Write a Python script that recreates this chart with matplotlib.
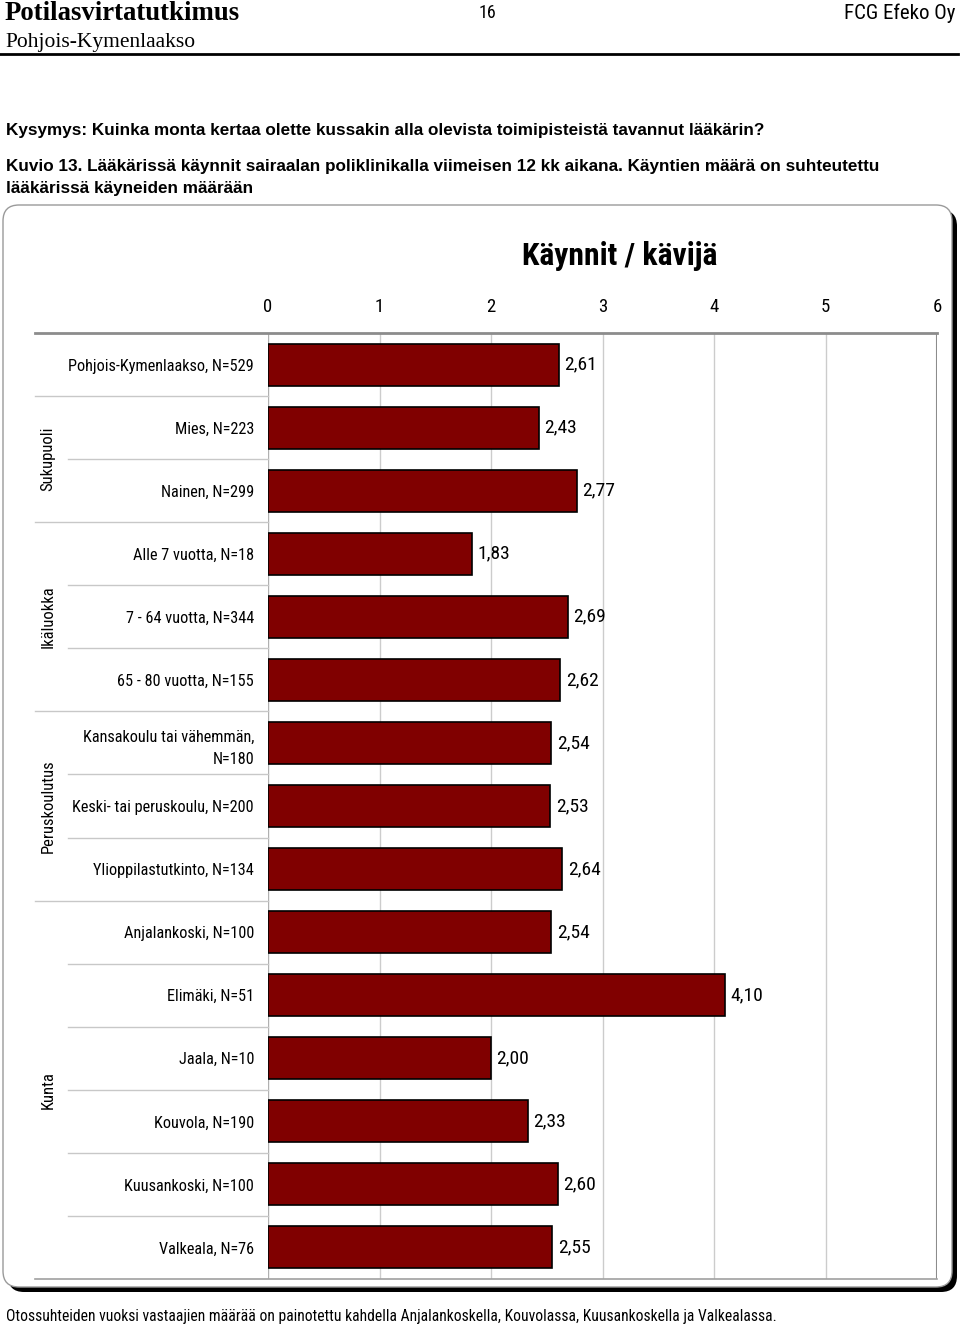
import matplotlib
matplotlib.use("Agg")
import matplotlib.pyplot as plt
from matplotlib.patches import FancyBboxPatch
from matplotlib.transforms import blended_transform_factory
import numpy as np

NARROW = ['Roboto Condensed', 'Liberation Sans', 'DejaVu Sans']
SANS = ['Liberation Sans', 'DejaVu Sans']
SERIF = ['Liberation Serif', 'DejaVu Serif']

# data
labels = ["Pohjois-Kymenlaakso, N=529",
          "Mies, N=223", "Nainen, N=299",
          "Alle 7 vuotta, N=18", "7 - 64 vuotta, N=344", "65 - 80 vuotta, N=155",
          "Kansakoulu tai vähemmän,\nN=180", "Keski- tai peruskoulu, N=200",
          "Ylioppilastutkinto, N=134",
          "Anjalankoski, N=100", "Elimäki, N=51", "Jaala, N=10",
          "Kouvola, N=190", "Kuusankoski, N=100", "Valkeala, N=76"]
values = [2.61, 2.43, 2.77, 1.83, 2.69, 2.62, 2.54, 2.53, 2.64,
          2.54, 4.10, 2.00, 2.33, 2.60, 2.55]
groups = ["Sukupuoli", "Ikäluokka", "Peruskoulutus", "Kunta"]
group_rows = [(1, 2), (3, 5), (6, 8), (9, 14)]
xticks = [0, 1, 2, 3, 4, 5, 6]

W, H = 960, 1326
fig = plt.figure(figsize=(W / 100, H / 100), dpi=100)

# background layer in pixel units for page texts and frame
bg = fig.add_axes([0, 0, 1, 1])
bg.set_xlim(0, W)
bg.set_ylim(H, 0)
bg.axis("off")

bg.text(5, 13, "Potilasvirtatutkimus", family=SERIF, fontsize=19.3,
        fontweight="bold", va="center", ha="left")
bg.text(487, 13, "16", family=NARROW, fontsize=13, va="center", ha="center")
bg.text(955, 13, "FCG Efeko Oy", family=NARROW, fontsize=15, va="center", ha="right")
bg.text(5, 42, "Pohjois-Kymenlaakso", family=SERIF, fontsize=15.5,
        va="center", ha="left")
bg.plot([0, 958], [54, 54], color="black", lw=2)

bg.text(6, 130, "Kysymys: Kuinka monta kertaa olette kussakin alla olevista "
        "toimipisteistä tavannut lääkärin?", family=SANS, fontsize=12.35,
        fontweight="bold", va="center")
bg.text(6, 167, "Kuvio 13. Lääkärissä käynnit sairaalan poliklinikalla viimeisen "
        "12 kk aikana. Käyntien määrä on suhteutettu", family=SANS,
        fontsize=12.35, fontweight="bold", va="center")
bg.text(6, 189, "lääkärissä käyneiden määrään", family=SANS, fontsize=12.35,
        fontweight="bold", va="center")
bg.text(6, 1316, "Otossuhteiden vuoksi vastaajien määrää on painotettu kahdella "
        "Anjalankoskella, Kouvolassa, Kuusankoskella ja Valkealassa.",
        family=NARROW, fontsize=11.25, va="center")

# frame with dark shadow
shadow = FancyBboxPatch((8, 210), 949, 1082, boxstyle="round,pad=0,rounding_size=16",
                        facecolor="black", edgecolor="black", lw=0)
frame = FancyBboxPatch((3, 205), 949, 1082, boxstyle="round,pad=0,rounding_size=16",
                       facecolor="white", edgecolor="#9a9a9a", lw=1)
bg.add_patch(shadow)
bg.add_patch(frame)
bg.text(620, 256, "Käynnit / kävijä", family=NARROW, fontsize=22.8,
        fontweight="bold", va="center", ha="center")

# main chart
ax = fig.add_axes([268 / W, 1 - 1279 / H, (937 - 268) / W, (1279 - 333) / H])
ax.patch.set_alpha(0)
y = np.arange(len(values))
ax.barh(y, values, height=0.665, color="#800000", edgecolor="black",
        linewidth=1.2, zorder=3)
for yi, v in zip(y, values):
    ax.annotate(f"{v:.2f}".replace(".", ","), (v, yi), xytext=(4, 0),
                textcoords="offset points", va="center", ha="left",
                family=NARROW, fontsize=14)

ax.set_xlim(0, 6)
ax.set_ylim(len(values) - 0.5, -0.5)
ax.xaxis.tick_top()
ax.set_xticks(xticks)
ax.set_xticklabels([str(t) for t in xticks], family=NARROW, fontsize=13.5)
ax.tick_params(axis="x", length=0, pad=12)
ax.set_yticks(y)
ax.set_yticklabels(labels, family=NARROW, fontsize=11.7, linespacing=1.6)
ax.tick_params(axis="y", length=0, pad=10)
for t in xticks[1:-1]:
    ax.axvline(t, color="#cccccc", lw=1, zorder=1)
for side in ["left", "right", "bottom", "top"]:
    ax.spines[side].set_visible(False)
ax.axvline(0, color="#b0b0b0", lw=1, zorder=2)
ax.axvline(6, color="#8c8c8c", lw=1.5, zorder=2)

# separator lines in the label column
tr = blended_transform_factory(ax.transAxes, ax.transData)
x_group = (35 - 268) / (937 - 268)
x_sub = (68 - 268) / (937 - 268)
group_edges = {-0.5, 14.5} | {a - 0.5 for a, b in group_rows}
for edge in np.arange(-0.5, len(values), 1.0):
    x0 = x_group if edge in group_edges else x_sub
    if edge == -0.5:
        ax.plot([x0, 1], [edge, edge], transform=tr, color="#8c8c8c", lw=2,
                clip_on=False, zorder=4)
    elif edge == 14.5:
        ax.plot([x0, 1], [edge, edge], transform=tr, color="#a0a0a0", lw=1.2,
                clip_on=False, zorder=4)
    else:
        ax.plot([x0, 0], [edge, edge], transform=tr, color="#c8c8c8", lw=1,
                clip_on=False)

for name, (a, b) in zip(groups, group_rows):
    ax.text((48 - 268) / (937 - 268), (a + b) / 2, name, transform=tr,
            rotation=90, va="center", ha="center", family=NARROW, fontsize=12)

fig.savefig("out.png", dpi=100)
